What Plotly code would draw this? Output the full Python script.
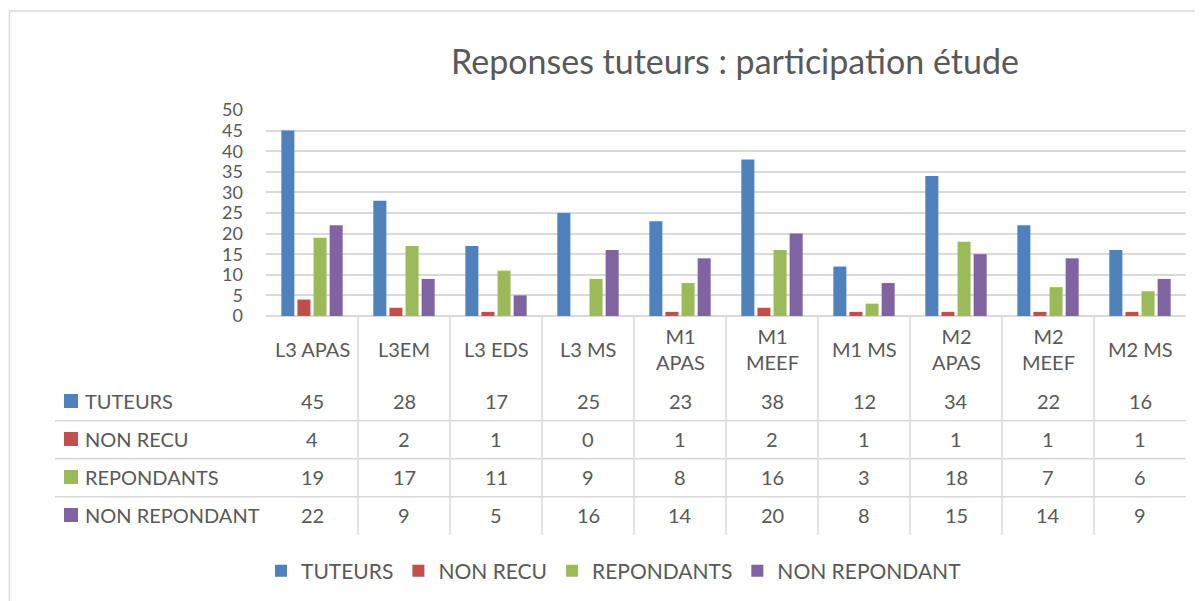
import plotly.graph_objects as go

categories = ["L3 APAS", "L3EM", "L3 EDS", "L3 MS", "M1 APAS", "M1 MEEF", "M1 MS", "M2 APAS", "M2 MEEF", "M2 MS"]
category_labels = ["L3 APAS", "L3EM", "L3 EDS", "L3 MS", "M1<br>APAS", "M1<br>MEEF", "M1 MS", "M2<br>APAS", "M2<br>MEEF", "M2 MS"]
series_names = ["TUTEURS", "NON RECU", "REPONDANTS", "NON REPONDANT"]
tuteurs = [45, 28, 17, 25, 23, 38, 12, 34, 22, 16]
non_recu = [4, 2, 1, 0, 1, 2, 1, 1, 1, 1]
repondants = [19, 17, 11, 9, 8, 16, 3, 18, 7, 6]
non_repondant = [22, 9, 5, 16, 14, 20, 8, 15, 14, 9]
y_ticks = [0, 5, 10, 15, 20, 25, 30, 35, 40, 45, 50]

series_values = [tuteurs, non_recu, repondants, non_repondant]
colors = ["#4F81BD", "#C0504D", "#9BBB59", "#8064A2"]

W, H = 1203, 601
OFF = 8  # page body margin compensation
L, R, T, B = 266 - OFF, 1186 - OFF, 110 - OFF, 316 - OFF
FONT = "Lato"
TXT = "#595959"
GRID = "#D9D9D9"


def px(xp):
    # reference pixel x -> paper coordinate
    return (xp - OFF - L) / (R - L)


def py(yp):
    # reference pixel y -> paper coordinate
    return (B - (yp - OFF)) / (B - T)


fig = go.Figure()
for name, vals, col in zip(series_names, series_values, colors):
    fig.add_trace(go.Bar(name=name, x=categories, y=vals, marker_color=col,
                         marker_line_width=0))

shapes = []
annotations = []

# chart border (top and left)
shapes.append(dict(type="line", xref="paper", yref="paper", x0=px(9), x1=px(1215), y0=py(11), y1=py(11),
                   line=dict(color=GRID, width=1.5)))
shapes.append(dict(type="line", xref="paper", yref="paper", x0=px(9.5), x1=px(9.5), y0=py(11), y1=py(615),
                   line=dict(color=GRID, width=1.5)))

# table vertical lines
for i in range(len(categories) - 1):
    shapes.append(dict(type="line", xref="x", yref="paper", x0=i + 0.5, x1=i + 0.5, y0=0, y1=py(535),
                       line=dict(color=GRID, width=1.5)))
# table horizontal lines
for yl in [420.7, 458.7, 496.7]:
    shapes.append(dict(type="line", xref="paper", yref="paper", x0=px(55), x1=1, y0=py(yl), y1=py(yl),
                       line=dict(color=GRID, width=1.5)))

# category labels
for c, lab in zip(categories, category_labels):
    annotations.append(dict(xref="x", yref="paper", x=c, y=py(349), text=lab, showarrow=False,
                            xanchor="center", yanchor="middle",
                            font=dict(family=FONT, size=20, color=TXT)))

row_y = [401, 439, 477, 515]
for name, vals, col, ry in zip(series_names, series_values, colors, row_y):
    shapes.append(dict(type="rect", xref="paper", yref="paper", x0=px(64), x1=px(78),
                       y0=py(ry - 7), y1=py(ry + 7), fillcolor=col, line=dict(width=0)))
    annotations.append(dict(xref="paper", yref="paper", x=px(83), y=py(ry), text=name, showarrow=False,
                            xanchor="left", yanchor="middle",
                            font=dict(family=FONT, size=20, color=TXT)))
    for c, v in zip(categories, vals):
        annotations.append(dict(xref="x", yref="paper", x=c, y=py(ry), text=str(v), showarrow=False,
                                xanchor="center", yanchor="middle",
                                font=dict(family=FONT, size=20, color=TXT)))

# title
annotations.append(dict(xref="paper", yref="paper", x=px(735), y=py(60), text="Reponses tuteurs : participation étude",
                        showarrow=False, xanchor="center", yanchor="middle",
                        font=dict(family=FONT, size=34, color=TXT)))

fig.update_layout(
    width=W, height=H,
    margin=dict(l=L, r=W - R, t=T, b=H - B, autoexpand=False),
    paper_bgcolor="white", plot_bgcolor="white",
    barmode="group", bargap=0.3, bargroupgap=0.19,
    showlegend=True,
    legend=dict(orientation="h", x=px(614), xanchor="center", y=py(571), yanchor="middle",
                font=dict(family=FONT, size=21, color=TXT), bgcolor="rgba(0,0,0,0)"),
    shapes=shapes, annotations=annotations,
    font=dict(family=FONT, color=TXT),
)
fig.update_xaxes(showticklabels=False, showgrid=False, zeroline=False, showline=False, ticks="")
fig.update_yaxes(range=[0, 50], tickvals=y_ticks, showgrid=True, gridcolor=GRID, gridwidth=1.5,
                 zeroline=True, zerolinecolor=GRID, zerolinewidth=1.5, showline=False,
                 tickfont=dict(family=FONT, size=18, color=TXT), ticklabelstandoff=22)

fig.write_html("out.html")
